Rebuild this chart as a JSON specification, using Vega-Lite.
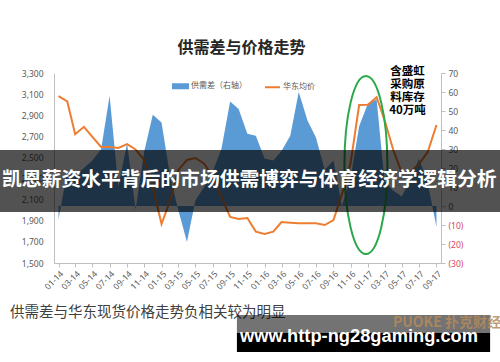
{
  "$schema": "https://vega.github.io/schema/vega-lite/v6.json",
  "width": 387,
  "height": 190,
  "autosize": {"type": "none"},
  "padding": {"left": 54, "top": 73, "right": 59, "bottom": 99},
  "background": "white",
  "config": {"view": {"stroke": null}, "font": "Noto Sans CJK SC", "axisLeft": {"labelOverlap": false}, "axisRight": {"labelOverlap": false}, "axisY": {"labelOverlap": false}},
  "title": {"text": "供需差与价格走势", "font": "Noto Sans CJK SC", "fontSize": 16, "fontWeight": "bold", "color": "#262626", "frame": "group", "anchor": "middle", "offset": 10, "dx": -6},
  "datasets": {
    "series": [
      {"month": "2014-01-01", "price": 3080, "gap": -7},
      {"month": "2014-02-01", "price": 3030, "gap": 18},
      {"month": "2014-03-01", "price": 2720, "gap": 16},
      {"month": "2014-04-01", "price": 2790, "gap": 20},
      {"month": "2014-05-01", "price": 2695, "gap": 24},
      {"month": "2014-06-01", "price": 2600, "gap": 30},
      {"month": "2014-07-01", "price": 2598, "gap": 58},
      {"month": "2014-08-01", "price": 2590, "gap": 10},
      {"month": "2014-09-01", "price": 2627, "gap": 33},
      {"month": "2014-10-01", "price": 2575, "gap": -2},
      {"month": "2014-11-01", "price": 2475, "gap": 29},
      {"month": "2014-12-01", "price": 2220, "gap": 48},
      {"month": "2015-01-01", "price": 1870, "gap": 44},
      {"month": "2015-02-01", "price": 2097, "gap": 15},
      {"month": "2015-03-01", "price": 2380, "gap": -2},
      {"month": "2015-04-01", "price": 2476, "gap": -19},
      {"month": "2015-05-01", "price": 2495, "gap": 3},
      {"month": "2015-06-01", "price": 2440, "gap": 10},
      {"month": "2015-07-01", "price": 2315, "gap": 18},
      {"month": "2015-08-01", "price": 2125, "gap": 30},
      {"month": "2015-09-01", "price": 1936, "gap": 55},
      {"month": "2015-10-01", "price": 1917, "gap": 51},
      {"month": "2015-11-01", "price": 1926, "gap": 38},
      {"month": "2015-12-01", "price": 1797, "gap": 37},
      {"month": "2016-01-01", "price": 1775, "gap": 25},
      {"month": "2016-02-01", "price": 1797, "gap": 24},
      {"month": "2016-03-01", "price": 1888, "gap": 29},
      {"month": "2016-04-01", "price": 1882, "gap": 37},
      {"month": "2016-05-01", "price": 1876, "gap": 60},
      {"month": "2016-06-01", "price": 1876, "gap": 45},
      {"month": "2016-07-01", "price": 1876, "gap": 36},
      {"month": "2016-08-01", "price": 1860, "gap": 19},
      {"month": "2016-09-01", "price": 1907, "gap": 24},
      {"month": "2016-10-01", "price": 2150, "gap": 0},
      {"month": "2016-11-01", "price": 2450, "gap": 15},
      {"month": "2016-12-01", "price": 2997, "gap": 42},
      {"month": "2017-01-01", "price": 3000, "gap": 54},
      {"month": "2017-02-01", "price": 3070, "gap": 56},
      {"month": "2017-03-01", "price": 2855, "gap": 13},
      {"month": "2017-04-01", "price": 2570, "gap": 8},
      {"month": "2017-05-01", "price": 2353, "gap": 5},
      {"month": "2017-06-01", "price": 2360, "gap": 14},
      {"month": "2017-07-01", "price": 2438, "gap": 25},
      {"month": "2017-08-01", "price": 2552, "gap": 12},
      {"month": "2017-09-01", "price": 2807, "gap": -11}
    ]
  },
  "layer": [
    {
      "data": {"name": "series"},
      "layer": [
        {
          "mark": {"type": "area", "opacity": 1},
          "encoding": {
            "x": {
              "field": "month", "type": "temporal",
              "scale": {"type": "utc", "domain": [{"year": 2013, "month": 12, "date": 16, "utc": true}, {"year": 2017, "month": 9, "date": 17, "utc": true}]},
              "axis": {"title": null, "format": "%m-%y", "tickCount": {"interval": "month", "step": 2}, "labelAngle": -45, "labelFontSize": 8.5, "labelColor": "#595959", "labelFont": "Noto Sans", "domainColor": "#bfbfbf", "tickColor": "#bfbfbf", "tickSize": 4, "grid": false, "labelFlush": false, "labelOverlap": false, "labelPadding": 2}
            },
            "y": {
              "field": "gap", "type": "quantitative", "stack": null,
              "scale": {"domain": [-30, 70], "nice": false, "zero": false},
              "axis": {"orient": "right", "title": null, "values": [-30, -20, -10, 0, 10, 20, 30, 40, 50, 60, 70], "tickCount": 20, "labelExpr": "datum.value < 0 ? '(' + abs(datum.value) + ')' : datum.value", "labelColor": {"condition": {"test": "datum.value < 0", "value": "#d9455f"}, "value": "#595959"}, "labelFontSize": 8.5, "labelFont": "Noto Sans", "labelOverlap": false, "domainColor": "#bfbfbf", "tickColor": "#bfbfbf", "tickSize": 4, "labelPadding": 3, "grid": false}
            },
            "y2": {"datum": 0},
            "color": {
              "datum": "供需差（右轴）",
              "scale": {"domain": ["供需差（右轴）", "华东均价"], "range": ["#5b9bd5", "#ed7d31"]},
              "legend": {
                "orient": "none", "legendX": 118, "legendY": 4.5, "direction": "horizontal", "title": null,
                "labelFontSize": 8, "labelColor": "#595959", "labelFont": "Noto Sans CJK SC", "symbolSize": 225, "columnPadding": 14, "labelOffset": 2,
                "symbolType": {"expr": "datum.value === '华东均价' ? 'stroke' : 'M-1,-0.27H1V0.27H-1Z'"},
                "symbolFillColor": {"expr": "datum.value === '华东均价' ? 'transparent' : '#5b9bd5'"},
                "symbolStrokeColor": {"expr": "datum.value === '华东均价' ? '#ed7d31' : 'transparent'"},
                "symbolStrokeWidth": 2,
                "symbolOpacity": 1
              }
            }
          }
        }
      ]
    },
    {
      "layer": [
        {
          "data": {"name": "series"},
          "mark": {"type": "line", "strokeWidth": 2},
          "encoding": {
            "x": {"field": "month", "type": "temporal"},
            "y": {
              "field": "price", "type": "quantitative",
              "scale": {"domain": [1500, 3300], "nice": false, "zero": false},
              "axis": {"orient": "left", "title": null, "values": [1500, 1700, 1900, 2100, 2300, 2500, 2700, 2900, 3100, 3300], "tickCount": 20, "labelExpr": "format(datum.value, ',')", "labelOverlap": false, "labelFontSize": 8.5, "labelColor": "#595959", "labelFont": "Noto Sans", "domainColor": "#bfbfbf", "ticks": false, "labelPadding": 11, "grid": false}
            },
            "color": {
              "datum": "华东均价",
              "legend": {
                "orient": "none", "legendX": 118, "legendY": 4.5, "direction": "horizontal", "title": null,
                "labelFontSize": 8, "labelColor": "#595959", "labelFont": "Noto Sans CJK SC", "symbolSize": 225, "columnPadding": 14, "labelOffset": 2,
                "symbolType": {"expr": "datum.value === '华东均价' ? 'stroke' : 'M-1,-0.27H1V0.27H-1Z'"},
                "symbolFillColor": {"expr": "datum.value === '华东均价' ? 'transparent' : '#5b9bd5'"},
                "symbolStrokeColor": {"expr": "datum.value === '华东均价' ? '#ed7d31' : 'transparent'"},
                "symbolStrokeWidth": 2,
                "symbolOpacity": 1
              }
            }
          }
        },
        {
          "data": {"values": [{}]},
          "mark": {"type": "point", "shape": "M0.2416,0C0.2416,0.5523,0.1334,1,0,1C-0.1334,1,-0.2416,0.5523,-0.2416,0C-0.2416,-0.5523,-0.1334,-1,0,-1C0.1334,-1,0.2416,-0.5523,0.2416,0Z", "size": 31684, "filled": false, "stroke": "#2aa84a", "strokeWidth": 2, "opacity": 1},
          "encoding": {
            "x": {"datum": {"year": 2016, "month": 12, "date": 25, "utc": true}, "type": "temporal"},
            "y": {"datum": 2428, "type": "quantitative"}
          }
        },
        {
          "data": {"values": [{}]},
          "mark": {"type": "text", "text": ["含盛虹", "采购原", "料库存", "40万吨"], "font": "Noto Sans CJK SC", "fontSize": 11.5, "fontWeight": "bold", "color": "#000000", "align": "center", "baseline": "middle", "lineHeight": 13},
          "encoding": {
            "x": {"datum": {"year": 2017, "month": 5, "date": 21, "utc": true}, "type": "temporal"},
            "y": {"datum": 3314, "type": "quantitative"}
          }
        },
        {
          "data": {"values": [{}]},
          "mark": {"type": "rect", "fill": "#000000", "opacity": 0.68},
          "encoding": {
            "x": {"datum": {"year": 2012, "month": 1, "date": 1, "utc": true}, "type": "temporal"},
            "x2": {"datum": {"year": 2019, "month": 6, "date": 1, "utc": true}},
            "y": {"datum": 2570, "type": "quantitative"},
            "y2": {"datum": 1983}
          }
        },
        {
          "data": {"values": [{}]},
          "mark": {"type": "text", "text": "凯恩薪资水平背后的市场供需博弈与体育经济学逻辑分析", "font": "Noto Sans CJK SC", "fontSize": 19.8, "fontWeight": "bold", "color": "#ffffff", "align": "center", "baseline": "middle"},
          "encoding": {
            "x": {"datum": {"year": 2015, "month": 11, "date": 8, "utc": true}, "type": "temporal"},
            "y": {"datum": 2290, "type": "quantitative"}
          }
        },
        {
          "data": {"values": [{}]},
          "mark": {"type": "text", "text": "供需差与华东现货价格走势负相关较为明显", "font": "Noto Sans CJK SC", "fontSize": 14.5, "color": "#404040", "align": "left", "baseline": "middle"},
          "encoding": {
            "x": {"datum": {"year": 2013, "month": 7, "date": 13, "utc": true}, "type": "temporal"},
            "y": {"datum": 1026, "type": "quantitative"}
          }
        },
        {
          "data": {"values": [{}]},
          "mark": {"type": "rect", "fill": "#000000", "opacity": 0.55},
          "encoding": {
            "x": {"datum": {"year": 2015, "month": 9, "date": 25, "utc": true}, "type": "temporal"},
            "x2": {"datum": {"year": 2018, "month": 3, "date": 10, "utc": true}},
            "y": {"datum": 1007, "type": "quantitative"},
            "y2": {"datum": 837}
          }
        },
        {
          "data": {"values": [{}]},
          "mark": {"type": "text", "text": "PUOKE 扑克财经", "font": "Noto Sans CJK SC", "fontSize": 14, "fontWeight": "bold", "color": "#b48a5e", "opacity": 0.85, "align": "left", "baseline": "middle"},
          "encoding": {
            "x": {"datum": {"year": 2017, "month": 3, "date": 31, "utc": true}, "type": "temporal"},
            "y": {"datum": 932, "type": "quantitative"}
          }
        },
        {
          "data": {"values": [{}]},
          "mark": {"type": "rect", "fill": "#000000", "opacity": 1},
          "encoding": {
            "x": {"datum": {"year": 2015, "month": 9, "date": 25, "utc": true}, "type": "temporal"},
            "x2": {"datum": {"year": 2018, "month": 3, "date": 10, "utc": true}},
            "y": {"datum": 837, "type": "quantitative"},
            "y2": {"datum": 657}
          }
        },
        {
          "data": {"values": [{}]},
          "mark": {"type": "text", "text": "www.http-ng28gaming.com", "font": "Liberation Sans", "fontSize": 18.3, "fontWeight": "bold", "color": "#ffffff", "align": "left", "baseline": "middle"},
          "encoding": {
            "x": {"datum": {"year": 2015, "month": 10, "date": 6, "utc": true}, "type": "temporal"},
            "y": {"datum": 799, "type": "quantitative"}
          }
        }
      ]
    }
  ],
  "resolve": {"scale": {"y": "independent"}}
}
